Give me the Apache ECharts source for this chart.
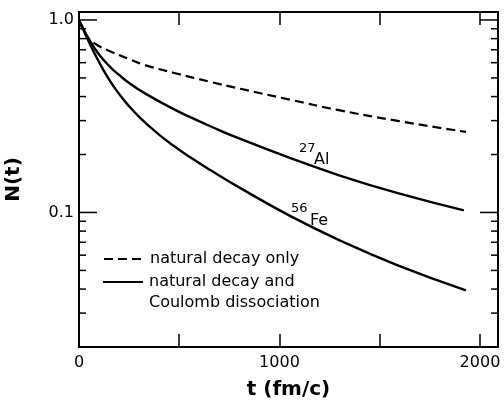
<!DOCTYPE html>
<html>
<head>
<meta charset="utf-8">
<script src="https://cdn.jsdelivr.net/npm/echarts@6/dist/echarts.min.js"></script>
<style>
  html, body { margin: 0; padding: 0; background: #fff; }
  #main { width: 504px; height: 402px; }
</style>
</head>
<body>
<div id="main"></div>
<script>
// natural decay only (dashed)
var tDashed = [0, 45, 80, 105, 160, 245, 325, 470, 655, 805, 1055, 1290, 1590, 1930];
var nDashed = [1.0, 0.800, 0.753, 0.726, 0.684, 0.629, 0.585, 0.532, 0.477, 0.439, 0.385, 0.341, 0.299, 0.262];
// natural decay and Coulomb dissociation (solid), 27Al
var tAl = [0, 45, 95, 160, 200, 245, 325, 470, 555, 655, 805, 1055, 1305, 1590, 1920];
var nAl = [1.0, 0.810, 0.672, 0.564, 0.518, 0.475, 0.418, 0.345, 0.3125, 0.2805, 0.241, 0.1915, 0.155, 0.126, 0.1026];
// natural decay and Coulomb dissociation (solid), 56Fe
var tFe = [0, 40, 80, 120, 160, 200, 245, 310, 390, 470, 555, 655, 805, 1055, 1305, 1590, 1930];
var nFe = [1.0, 0.808, 0.662, 0.554, 0.473, 0.413, 0.361, 0.3065, 0.2585, 0.2226, 0.1934, 0.1661, 0.1338, 0.0957, 0.0713, 0.0531, 0.0394];
// tick marks on the log axis
var yTicks = [0.02, 0.03, 0.04, 0.05, 0.06, 0.07, 0.08, 0.09, 0.1,
              0.2, 0.3, 0.4, 0.5, 0.6, 0.7, 0.8, 0.9, 1.0];
var yMajor = [0.1, 1.0];

var font = 'DejaVu Sans';
var tMax = 2090;

function pairs(xs, ys) {
  return xs.map(function (x, i) { return [x, ys[i]]; });
}

var myChart = echarts.init(document.getElementById('main'));

var xAxisBase = {
  type: 'value',
  min: 0,
  max: tMax,
  interval: 500,
  axisLine: { show: false },
  splitLine: { show: false },
  axisTick: { inside: true, length: 13, lineStyle: { color: '#000', width: 1.5 } }
};

var option = {
  animation: false,
  grid: {
    left: 79, right: 6, top: 12, bottom: 55,
    containLabel: false, outerBoundsMode: 'none',
    show: true, borderColor: '#000', borderWidth: 2
  },
  xAxis: [
    Object.assign({}, xAxisBase, {
      position: 'bottom',
      name: 't (fm/c)',
      nameLocation: 'middle',
      nameGap: 33,
      nameTextStyle: { fontFamily: font, fontWeight: 'bold', fontSize: 20, color: '#000' },
      axisLabel: {
        margin: 8, fontFamily: font, fontSize: 16, color: '#000',
        showMaxLabel: false,
        formatter: function (v) { return v % 1000 === 0 ? String(v) : ''; }
      }
    }),
    Object.assign({}, xAxisBase, { position: 'top', axisLabel: { show: false } })
  ],
  yAxis: {
    type: 'log',
    logBase: 10,
    min: 0.02,
    max: 1.1,
    axisLine: { show: false },
    axisTick: { show: false },
    splitLine: { show: false },
    name: 'N(t)',
    nameLocation: 'middle',
    nameGap: 55,
    nameTextStyle: { fontFamily: font, fontWeight: 'bold', fontSize: 20, color: '#000' },
    axisLabel: {
      margin: 5, fontFamily: font, fontSize: 16, color: '#000',
      showMinLabel: false, showMaxLabel: false,
      formatter: function (v) {
        if (Math.abs(v - 1) < 1e-6) return '1.0';
        if (Math.abs(v - 0.1) < 1e-7) return '0.1';
        return '';
      }
    }
  },
  series: [
    {
      type: 'line', name: 'natural decay only',
      data: pairs(tDashed, nDashed),
      smooth: 0.5, symbol: 'none',
      lineStyle: { color: '#000', width: 2.2, type: [9, 5] }
    },
    {
      type: 'line', name: '27Al',
      data: pairs(tAl, nAl),
      smooth: 0.5, symbol: 'none',
      lineStyle: { color: '#000', width: 2.4 }
    },
    {
      type: 'line', name: '56Fe',
      data: pairs(tFe, nFe),
      smooth: 0.5, symbol: 'none',
      lineStyle: { color: '#000', width: 2.4 }
    },
    {
      type: 'custom',
      data: yTicks.map(function (v) { return [0, v]; }),
      encode: { x: 0, y: 1 },
      silent: true,
      clip: false,
      renderItem: function (params, api) {
        var v = api.value(1);
        var major = yMajor.some(function (m) { return Math.abs(m - v) < 1e-9; });
        var len = major ? 18 : 7;
        var pl = api.coord([0, v]);
        var pr = api.coord([tMax, v]);
        var st = { stroke: '#000', lineWidth: 1.5 };
        return {
          type: 'group',
          children: [
            { type: 'line', shape: { x1: pl[0], y1: pl[1], x2: pl[0] + len, y2: pl[1] }, style: st },
            { type: 'line', shape: { x1: pr[0], y1: pr[1], x2: pr[0] - len, y2: pr[1] }, style: st }
          ]
        };
      }
    }
  ],
  graphic: [
    // legend
    { type: 'line', shape: { x1: 104, y1: 259, x2: 143, y2: 259 },
      style: { stroke: '#000', lineWidth: 2.2, lineDash: [9, 5] } },
    { type: 'text', left: 150, top: 251,
      style: { text: 'natural decay only', font: '16px "DejaVu Sans"', fill: '#000' } },
    { type: 'line', shape: { x1: 103, y1: 282, x2: 143, y2: 282 },
      style: { stroke: '#000', lineWidth: 2.2 } },
    { type: 'text', left: 149, top: 274,
      style: { text: 'natural decay and', font: '16px "DejaVu Sans"', fill: '#000' } },
    { type: 'text', left: 149, top: 295,
      style: { text: 'Coulomb dissociation', font: '16px "DejaVu Sans"', fill: '#000' } },
    // isotope labels
    { type: 'text', left: 299, top: 142,
      style: { text: '27', font: '13px "DejaVu Sans"', fill: '#000' } },
    { type: 'text', left: 314, top: 152,
      style: { text: 'Al', font: '16px "DejaVu Sans"', fill: '#000' } },
    { type: 'text', left: 291, top: 202,
      style: { text: '56', font: '13px "DejaVu Sans"', fill: '#000' } },
    { type: 'text', left: 310, top: 213,
      style: { text: 'Fe', font: '16px "DejaVu Sans"', fill: '#000' } }
  ]
};

myChart.setOption(option);
</script>
</body>
</html>
